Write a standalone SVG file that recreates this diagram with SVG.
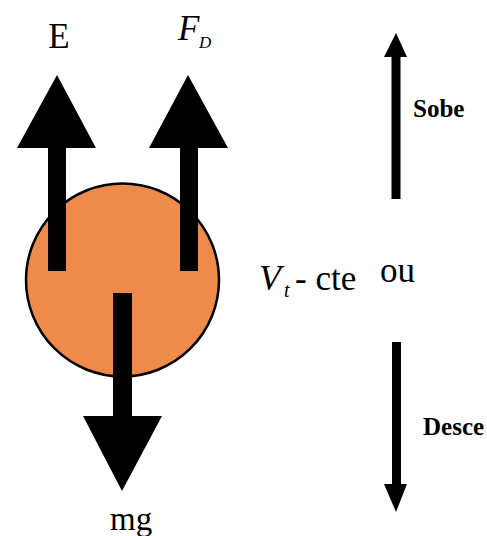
<svg xmlns="http://www.w3.org/2000/svg" width="487" height="536" viewBox="0 0 487 536">
<style>
.arr{fill:#000}
.t{font-family:"Liberation Serif",serif;fill:#000}
.b{font-family:"Liberation Serif",serif;font-weight:bold;fill:#000;font-size:25px}
</style>
<rect width="487" height="536" fill="#fff"/>
<g id="ball">
<circle cx="122.5" cy="280" r="96.5" fill="#EE8A4A" stroke="#000" stroke-width="2.5"/>
</g>
<g id="connectors">
<g id="E-arrow"><polygon class="arr" points="57,75 96,148 66,148 66,271 48,271 48,148 17,148"/></g>
<g id="FD-arrow"><polygon class="arr" points="188,75 228,148 198,148 198,271 180,271 180,148 149,148"/></g>
<g id="mg-arrow"><polygon class="arr" points="113,293 132,293 132,416 162,416 122,491 83,416 113,416"/></g>
<g id="sobe-arrow"><polygon class="arr" points="396,33 407,57 400.5,57 400.5,199 391.5,199 391.5,57 384,57"/></g>
<g id="desce-arrow"><polygon class="arr" points="392,342 401,342 401,484 407,484 396,512 384,484 392,484"/></g>
</g>
<g id="labels">
<text class="t" x="59" y="48" font-size="35" text-anchor="middle">E</text>
<text class="t" x="178" y="40" font-size="35" font-style="italic">F</text>
<text class="t" x="199" y="48" font-size="17" font-style="italic">D</text>
<text class="t" x="110" y="530" font-size="33">mg</text>
<text class="t" x="259" y="290" font-size="36" font-style="italic">V</text>
<text class="t" x="284" y="297" font-size="20" font-style="italic">t</text>
<text class="t" x="295" y="290" font-size="35">- cte</text>
<text class="t" x="380" y="282" font-size="35">ou</text>
<text class="b" x="413" y="117">Sobe</text>
<text class="b" x="423" y="435">Desce</text>
</g>
</svg>
